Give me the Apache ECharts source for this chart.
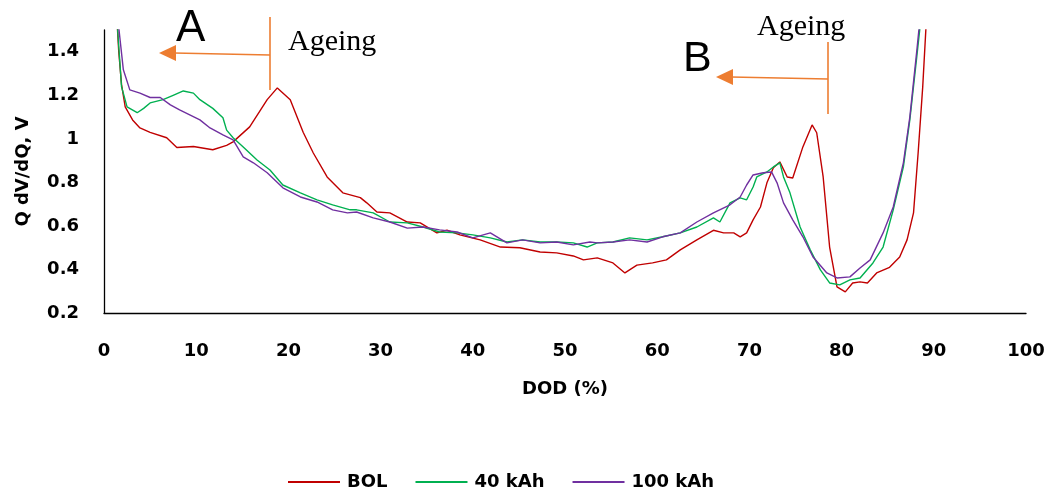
<!DOCTYPE html>
<html><head><meta charset="utf-8">
<script src="https://cdn.jsdelivr.net/npm/echarts@6/dist/echarts.min.js"></script>
<style>html,body{margin:0;padding:0;background:#fff}#c{width:1057px;height:493px}</style>
</head><body><div id="c"></div>
<script>
// Data
const seriesNames = ['BOL', '40 kAh', '100 kAh'];
const xTicks = [0,10,20,30,40,50,60,70,80,90,100];
const yTicks = [0.2,0.4,0.6,0.8,1,1.2,1.4];

const bolX = [1.4,1.6,1.9,2.3,3.1,3.9,5,6.8,7.9,9.7,11.8,13.3,14,15.8,17.7,18.8,20.2,21.6,22.7,24.2,25.9,27.8,28.5,29.6,31,32.9,34.3,36.1,37.2,38.6,40.8,43,45.1,47.3,49.1,50.9,52,53.5,55.2,56.5,57,57.8,59.5,61,62.5,64.3,66.1,67.2,68.3,69,69.7,70.4,71.2,71.9,72.6,73.3,74.1,74.7,75.8,76.8,77.3,78,78.7,79.5,80.4,81.2,82,82.8,83.8,85.2,86.3,87.1,87.8,88.3,88.8,89.2];
const bolY = [1.55,1.4,1.25,1.147,1.087,1.05,1.03,1.005,0.96,0.965,0.95,0.97,0.986,1.055,1.18,1.234,1.18,1.03,0.935,0.825,0.752,0.73,0.706,0.664,0.66,0.618,0.614,0.568,0.58,0.559,0.536,0.503,0.5,0.48,0.476,0.462,0.444,0.453,0.43,0.384,0.398,0.42,0.43,0.444,0.49,0.536,0.58,0.568,0.568,0.55,0.568,0.628,0.687,0.798,0.867,0.894,0.825,0.82,0.963,1.064,1.028,0.825,0.503,0.32,0.297,0.338,0.343,0.338,0.384,0.41,0.457,0.536,0.66,0.935,1.24,1.55];

const k40X = [1.4,1.9,2.5,3.6,4.3,5,6.4,7.5,8.6,9.7,10.4,11.8,12.9,13.3,14,15.1,16.6,18,19.4,21.3,23.1,24.8,26.7,27.4,29.2,31,32.9,34.6,36.4,38.3,40,41.9,43.7,45.4,47.3,49.1,50.9,52.4,53.5,55.2,57,58.9,60.6,62.5,64.3,66.1,66.8,67.9,69,69.7,70.4,70.8,71.9,72.6,73.3,73.7,74.4,75.5,76.6,77.7,78.7,79.8,80.9,82,83.4,84.5,85.6,86.7,87.4,88.2,88.6];
const k40Y = [1.55,1.24,1.147,1.12,1.14,1.165,1.18,1.2,1.22,1.21,1.18,1.14,1.097,1.04,1.005,0.963,0.903,0.857,0.788,0.752,0.72,0.697,0.674,0.674,0.66,0.618,0.614,0.595,0.572,0.568,0.559,0.545,0.526,0.536,0.526,0.526,0.522,0.503,0.522,0.526,0.545,0.536,0.55,0.568,0.595,0.637,0.618,0.706,0.729,0.72,0.779,0.825,0.848,0.871,0.89,0.825,0.752,0.595,0.49,0.398,0.338,0.329,0.352,0.361,0.43,0.503,0.674,0.871,1.087,1.395,1.55];

const k100X = [1.5,2.1,2.8,3.9,5,6.1,7.2,8.2,9.3,10.4,11.5,12.9,14,15.1,16.2,17.7,19.4,21.3,23.1,24.8,26.4,27.4,29.2,31,32.9,34.6,36.4,38.3,40,41.9,43.7,45.4,47.3,49.1,50.9,52.7,53.5,55.2,57,58.9,60.6,62.5,64.3,66.1,67.9,69,69.7,70.4,71.5,72.4,73,73.7,74.7,75.8,76.9,78.4,79.5,80.9,82,83.1,84.5,85.6,86.7,87.4,88.2,88.5];
const k100Y = [1.55,1.317,1.225,1.21,1.19,1.19,1.156,1.133,1.11,1.087,1.05,1.018,0.995,0.917,0.89,0.844,0.775,0.733,0.71,0.674,0.66,0.664,0.637,0.618,0.59,0.595,0.582,0.572,0.545,0.568,0.522,0.536,0.522,0.526,0.513,0.526,0.522,0.526,0.536,0.526,0.55,0.568,0.618,0.66,0.697,0.733,0.788,0.834,0.844,0.848,0.798,0.706,0.628,0.55,0.457,0.384,0.361,0.366,0.407,0.444,0.568,0.687,0.89,1.1,1.423,1.55];

const colors = ['#C00000', '#00B050', '#7030A0'];
const pairs = (xs, ys) => xs.map((x, i) => [x, ys[i]]);
const allData = [pairs(bolX, bolY), pairs(k40X, k40Y), pairs(k100X, k100Y)];

const chart = echarts.init(document.getElementById('c'), null, {renderer: 'canvas'});
const orange = '#ED7D31';
const labelFont = {fontFamily: 'DejaVu Sans', fontWeight: 'bold', fontSize: 18, color: '#000'};

chart.setOption({
  animation: false,
  backgroundColor: '#fff',
  grid: {left: 104, right: 31, top: 30, bottom: 180},
  xAxis: {
    type: 'value', min: xTicks[0], max: xTicks[xTicks.length - 1], interval: 10,
    name: 'DOD (%)', nameLocation: 'middle', nameGap: 67,
    nameTextStyle: {fontFamily: 'DejaVu Sans', fontWeight: 'bold', fontSize: 18, color: '#000'},
    axisLine: {show: true, onZero: false, lineStyle: {color: '#000', width: 1.3}},
    axisTick: {show: false},
    splitLine: {show: false},
    axisLabel: Object.assign({margin: 29}, labelFont)
  },
  yAxis: {
    type: 'value', min: yTicks[0], max: 1.5, interval: 0.2,
    name: 'Q dV/dQ, V', nameLocation: 'middle', nameGap: 72, nameRotate: 90,
    nameTextStyle: {fontFamily: 'DejaVu Sans', fontWeight: 'bold', fontSize: 18, color: '#000'},
    axisLine: {show: true, lineStyle: {color: '#000', width: 1.3}},
    axisTick: {show: false},
    splitLine: {show: false},
    axisLabel: Object.assign({margin: 25, showMaxLabel: false,
      formatter: v => (Math.round(v * 10) / 10).toString()}, labelFont)
  },
  legend: {
    left: 283, top: 468,
    data: seriesNames,
    icon: 'rect', itemWidth: 52, itemHeight: 2, itemGap: 28,
    textStyle: {fontFamily: 'DejaVu Sans', fontWeight: 'bold', fontSize: 18, color: '#000', padding: [0,0,0,2]}
  },
  series: seriesNames.map((n, i) => ({
    name: n, type: 'line', data: allData[i], showSymbol: false, symbol: 'none',
    clip: true, color: colors[i],
    lineStyle: {width: 1.4, color: colors[i]}
  })),
  graphic: [
    // Annotation A
    {type: 'text', left: 176, top: 7, style: {text: 'A', font: '44px "Liberation Sans"', fill: '#000'}},
    {type: 'line', shape: {x1: 270, y1: 17, x2: 270, y2: 90}, style: {stroke: orange, lineWidth: 1.6}},
    {type: 'line', shape: {x1: 270, y1: 55, x2: 174, y2: 53}, style: {stroke: orange, lineWidth: 1.6}},
    {type: 'polygon', shape: {points: [[159, 53], [176, 45], [176, 61]]}, style: {fill: orange}},
    {type: 'text', left: 288, top: 27, style: {text: 'Ageing', font: '30px "Liberation Serif"', fill: '#000'}},
    // Annotation B
    {type: 'text', left: 683, top: 38, style: {text: 'B', font: '43px "Liberation Sans"', fill: '#000'}},
    {type: 'line', shape: {x1: 828, y1: 42, x2: 828, y2: 114}, style: {stroke: orange, lineWidth: 1.6}},
    {type: 'line', shape: {x1: 828, y1: 79, x2: 731, y2: 77}, style: {stroke: orange, lineWidth: 1.6}},
    {type: 'polygon', shape: {points: [[716, 77], [733, 69], [733, 85]]}, style: {fill: orange}},
    {type: 'text', left: 757, top: 12, style: {text: 'Ageing', font: '30px "Liberation Serif"', fill: '#000'}}
  ]
});
</script>
</body></html>
